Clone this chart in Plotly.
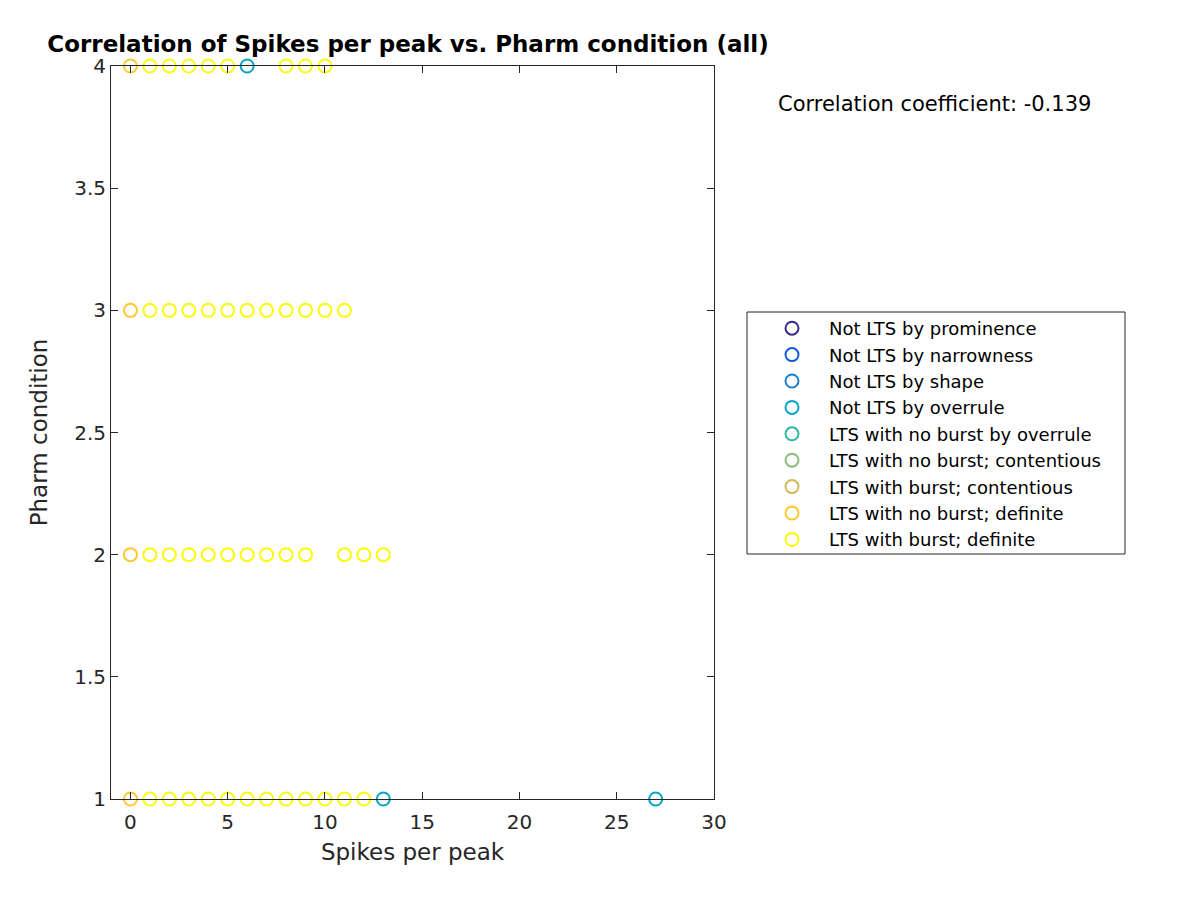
import plotly.graph_objects as go

categories = ["Not LTS by prominence", "Not LTS by narrowness", "Not LTS by shape",
              "Not LTS by overrule", "LTS with no burst by overrule",
              "LTS with no burst; contentious", "LTS with burst; contentious",
              "LTS with no burst; definite", "LTS with burst; definite"]
colors = ["#352a87", "#0f5cdd", "#1481d6", "#06a4ca", "#2eb7a4",
          "#87bf77", "#d1bb59", "#fec832", "#f9fb0e"]

# Spikes per peak (x) and Pharm condition (y) for each category
overrule_x = [6, 13, 27]
overrule_y = [4, 1, 1]
nb_def_x = [0, 0, 0, 0]
nb_def_y = [4, 3, 2, 1]
b_def_x4 = [1, 2, 3, 4, 5, 8, 9, 10]
b_def_x3 = [1, 2, 3, 4, 5, 6, 7, 8, 9, 10, 11]
b_def_x2 = [1, 2, 3, 4, 5, 6, 7, 8, 9, 11, 12, 13]
b_def_x1 = [1, 2, 3, 4, 5, 6, 7, 8, 9, 10, 11, 12]

b_def_x = b_def_x4 + b_def_x3 + b_def_x2 + b_def_x1
b_def_y = [4] * len(b_def_x4) + [3] * len(b_def_x3) + [2] * len(b_def_x2) + [1] * len(b_def_x1)

data = {
    "Not LTS by overrule": (overrule_x, overrule_y),
    "LTS with no burst; definite": (nb_def_x, nb_def_y),
    "LTS with burst; definite": (b_def_x, b_def_y),
}

x_ticks = [0, 5, 10, 15, 20, 25, 30]
y_ticks = [1, 1.5, 2, 2.5, 3, 3.5, 4]

font = "DejaVu Sans"
fig = go.Figure()
for i, (cat, col) in enumerate(zip(categories, colors)):
    xs, ys = data.get(cat, ([None], [None]))
    fig.add_trace(go.Scatter(
        x=xs, y=ys, mode="markers", name=cat, legendgroup=cat,
        marker=dict(symbol="circle-open", size=13, color=col, line=dict(width=2, color=col)),
        cliponaxis=False,
    ))

OFF = 8  # browser body margin
W, H = 1200, 900
L, R, T, B = 111 - OFF, 714 - OFF, 66 - OFF, 799 - OFF


def px(x):
    return (x - OFF - L) / (R - L)


def py(y):
    return (B - (y - OFF)) / (B - T)


fig.update_layout(
    width=W, height=H,
    margin=dict(l=L, r=W - R, t=T, b=H - B, pad=0),
    paper_bgcolor="white", plot_bgcolor="white",
    font=dict(family=font, size=20, color="#262626"),
    title=dict(text="<b>Correlation of Spikes per peak vs. Pharm condition (all)</b>",
               x=(408 - OFF) / W, xanchor="center", y=1 - (44 - OFF) / H, yanchor="middle",
               font=dict(size=23, color="black", family=font)),
    showlegend=True,
    legend=dict(x=px(755), xanchor="left", y=py(310), yanchor="top",
                bgcolor="rgba(0,0,0,0)", borderwidth=0, tracegroupgap=0,
                font=dict(size=18, color="black", family=font), itemwidth=64),
    xaxis=dict(range=[-1, 30], tickvals=x_ticks, ticks="inside", ticklen=7, tickwidth=1,
               tickcolor="#262626", showline=True, linecolor="#262626", linewidth=1,
               mirror="allticks", showgrid=False, zeroline=False, ticklabelstandoff=5,
               title=dict(text="Spikes per peak", font=dict(size=23), standoff=10),
               tickfont=dict(size=20)),
    yaxis=dict(range=[1, 4], tickvals=y_ticks, ticktext=["1", "1.5", "2", "2.5", "3", "3.5", "4"],
               ticks="inside", ticklen=7, tickwidth=1,
               tickcolor="#262626", showline=True, linecolor="#262626", linewidth=1,
               mirror="allticks", showgrid=False, zeroline=False,
               title=dict(text="Pharm condition", font=dict(size=23), standoff=20),
               tickfont=dict(size=20)),
)

# legend box
fig.add_shape(type="rect", xref="paper", yref="paper",
              x0=px(747), x1=px(1125), y0=py(554), y1=py(312),
              line=dict(color="#262626", width=1), fillcolor="rgba(0,0,0,0)")

fig.add_annotation(text="Correlation coefficient: -0.139", xref="paper", yref="paper",
                   x=px(776), y=py(104), xanchor="left", yanchor="middle",
                   showarrow=False, font=dict(size=21, color="black", family=font))

fig.write_html("out.html")
